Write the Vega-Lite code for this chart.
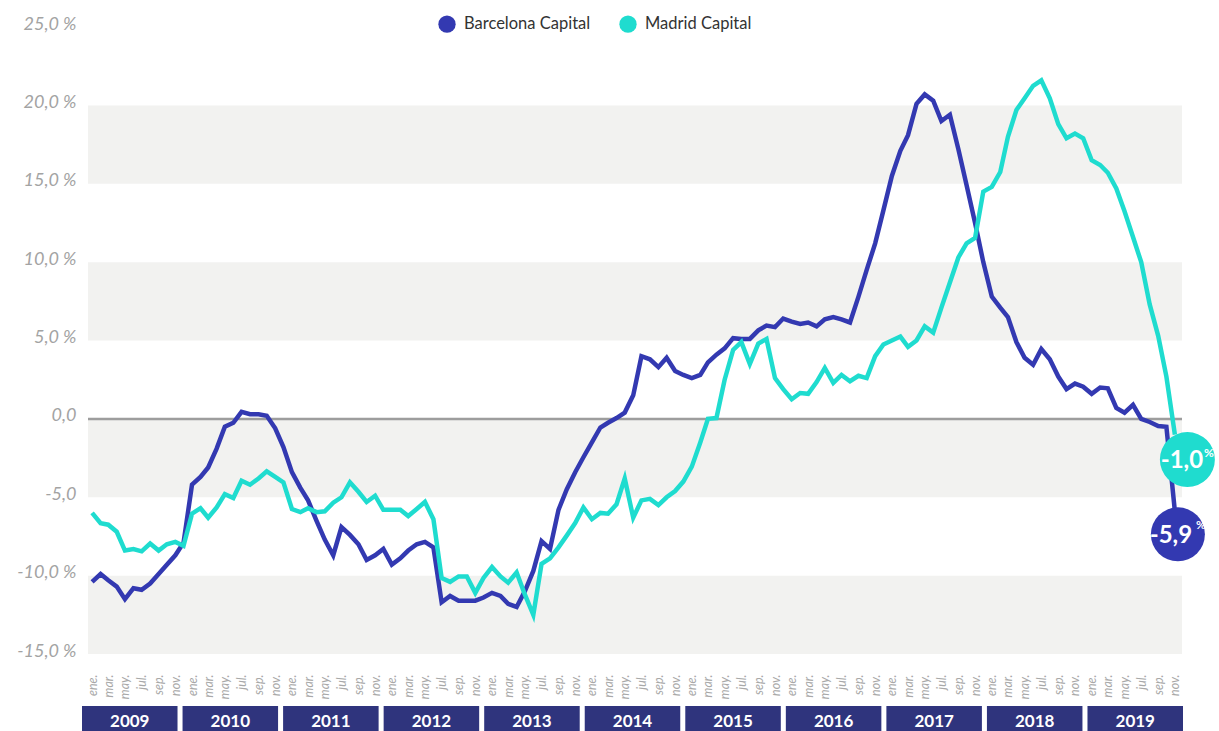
{
  "$schema": "https://vega.github.io/schema/vega-lite/v6.json",
  "background": "#ffffff",
  "padding": {"left": 16, "right": 2, "top": 15, "bottom": 0},
  "config": {"view": {"stroke": null}, "font": "Lato"},
  "datasets": {
    "series": [
      {"date": "2009-01-01", "Barcelona Capital": -10.4, "Madrid Capital": -6.0},
      {"date": "2009-02-01", "Barcelona Capital": -9.9, "Madrid Capital": -6.65},
      {"date": "2009-03-01", "Barcelona Capital": -10.3, "Madrid Capital": -6.75},
      {"date": "2009-04-01", "Barcelona Capital": -10.7, "Madrid Capital": -7.2},
      {"date": "2009-05-01", "Barcelona Capital": -11.5, "Madrid Capital": -8.4},
      {"date": "2009-06-01", "Barcelona Capital": -10.8, "Madrid Capital": -8.3},
      {"date": "2009-07-01", "Barcelona Capital": -10.9, "Madrid Capital": -8.45},
      {"date": "2009-08-01", "Barcelona Capital": -10.5, "Madrid Capital": -7.95},
      {"date": "2009-09-01", "Barcelona Capital": -9.9, "Madrid Capital": -8.4},
      {"date": "2009-10-01", "Barcelona Capital": -9.3, "Madrid Capital": -8.0},
      {"date": "2009-11-01", "Barcelona Capital": -8.7, "Madrid Capital": -7.85},
      {"date": "2009-12-01", "Barcelona Capital": -7.9, "Madrid Capital": -8.1},
      {"date": "2010-01-01", "Barcelona Capital": -4.2, "Madrid Capital": -6.05},
      {"date": "2010-02-01", "Barcelona Capital": -3.7, "Madrid Capital": -5.7},
      {"date": "2010-03-01", "Barcelona Capital": -3.1, "Madrid Capital": -6.3},
      {"date": "2010-04-01", "Barcelona Capital": -1.9, "Madrid Capital": -5.65},
      {"date": "2010-05-01", "Barcelona Capital": -0.5, "Madrid Capital": -4.8},
      {"date": "2010-06-01", "Barcelona Capital": -0.25, "Madrid Capital": -5.05},
      {"date": "2010-07-01", "Barcelona Capital": 0.45, "Madrid Capital": -3.95},
      {"date": "2010-08-01", "Barcelona Capital": 0.3, "Madrid Capital": -4.2},
      {"date": "2010-09-01", "Barcelona Capital": 0.3, "Madrid Capital": -3.8},
      {"date": "2010-10-01", "Barcelona Capital": 0.2, "Madrid Capital": -3.35},
      {"date": "2010-11-01", "Barcelona Capital": -0.6, "Madrid Capital": -3.7},
      {"date": "2010-12-01", "Barcelona Capital": -1.8, "Madrid Capital": -4.05},
      {"date": "2011-01-01", "Barcelona Capital": -3.4, "Madrid Capital": -5.75},
      {"date": "2011-02-01", "Barcelona Capital": -4.4, "Madrid Capital": -5.95},
      {"date": "2011-03-01", "Barcelona Capital": -5.2, "Madrid Capital": -5.7},
      {"date": "2011-04-01", "Barcelona Capital": -6.5, "Madrid Capital": -5.95},
      {"date": "2011-05-01", "Barcelona Capital": -7.7, "Madrid Capital": -5.9},
      {"date": "2011-06-01", "Barcelona Capital": -8.7, "Madrid Capital": -5.35},
      {"date": "2011-07-01", "Barcelona Capital": -6.9, "Madrid Capital": -5.0},
      {"date": "2011-08-01", "Barcelona Capital": -7.4, "Madrid Capital": -4.05},
      {"date": "2011-09-01", "Barcelona Capital": -8.0, "Madrid Capital": -4.65},
      {"date": "2011-10-01", "Barcelona Capital": -9.0, "Madrid Capital": -5.3},
      {"date": "2011-11-01", "Barcelona Capital": -8.7, "Madrid Capital": -4.9},
      {"date": "2011-12-01", "Barcelona Capital": -8.3, "Madrid Capital": -5.8},
      {"date": "2012-01-01", "Barcelona Capital": -9.3, "Madrid Capital": -5.8},
      {"date": "2012-02-01", "Barcelona Capital": -8.9, "Madrid Capital": -5.8},
      {"date": "2012-03-01", "Barcelona Capital": -8.4, "Madrid Capital": -6.2},
      {"date": "2012-04-01", "Barcelona Capital": -8.0, "Madrid Capital": -5.75},
      {"date": "2012-05-01", "Barcelona Capital": -7.85, "Madrid Capital": -5.3},
      {"date": "2012-06-01", "Barcelona Capital": -8.2, "Madrid Capital": -6.4},
      {"date": "2012-07-01", "Barcelona Capital": -11.7, "Madrid Capital": -10.15},
      {"date": "2012-08-01", "Barcelona Capital": -11.3, "Madrid Capital": -10.4},
      {"date": "2012-09-01", "Barcelona Capital": -11.6, "Madrid Capital": -10.05},
      {"date": "2012-10-01", "Barcelona Capital": -11.6, "Madrid Capital": -10.05},
      {"date": "2012-11-01", "Barcelona Capital": -11.6, "Madrid Capital": -11.1},
      {"date": "2012-12-01", "Barcelona Capital": -11.4, "Madrid Capital": -10.15},
      {"date": "2013-01-01", "Barcelona Capital": -11.1, "Madrid Capital": -9.45},
      {"date": "2013-02-01", "Barcelona Capital": -11.3, "Madrid Capital": -10.05},
      {"date": "2013-03-01", "Barcelona Capital": -11.8, "Madrid Capital": -10.45},
      {"date": "2013-04-01", "Barcelona Capital": -12.0, "Madrid Capital": -9.8},
      {"date": "2013-05-01", "Barcelona Capital": -11.0, "Madrid Capital": -11.2},
      {"date": "2013-06-01", "Barcelona Capital": -9.7, "Madrid Capital": -12.5},
      {"date": "2013-07-01", "Barcelona Capital": -7.8, "Madrid Capital": -9.25},
      {"date": "2013-08-01", "Barcelona Capital": -8.3, "Madrid Capital": -8.9},
      {"date": "2013-09-01", "Barcelona Capital": -5.8, "Madrid Capital": -8.2},
      {"date": "2013-10-01", "Barcelona Capital": -4.5, "Madrid Capital": -7.45},
      {"date": "2013-11-01", "Barcelona Capital": -3.4, "Madrid Capital": -6.65},
      {"date": "2013-12-01", "Barcelona Capital": -2.45, "Madrid Capital": -5.65},
      {"date": "2014-01-01", "Barcelona Capital": -1.5, "Madrid Capital": -6.4},
      {"date": "2014-02-01", "Barcelona Capital": -0.55, "Madrid Capital": -6.0},
      {"date": "2014-03-01", "Barcelona Capital": -0.25, "Madrid Capital": -6.05},
      {"date": "2014-04-01", "Barcelona Capital": 0.05, "Madrid Capital": -5.45},
      {"date": "2014-05-01", "Barcelona Capital": 0.4, "Madrid Capital": -3.8},
      {"date": "2014-06-01", "Barcelona Capital": 1.5, "Madrid Capital": -6.3},
      {"date": "2014-07-01", "Barcelona Capital": 4.0, "Madrid Capital": -5.2},
      {"date": "2014-08-01", "Barcelona Capital": 3.8, "Madrid Capital": -5.1},
      {"date": "2014-09-01", "Barcelona Capital": 3.3, "Madrid Capital": -5.5},
      {"date": "2014-10-01", "Barcelona Capital": 3.9, "Madrid Capital": -5.0},
      {"date": "2014-11-01", "Barcelona Capital": 3.05, "Madrid Capital": -4.6},
      {"date": "2014-12-01", "Barcelona Capital": 2.8, "Madrid Capital": -4.0},
      {"date": "2015-01-01", "Barcelona Capital": 2.6, "Madrid Capital": -3.05},
      {"date": "2015-02-01", "Barcelona Capital": 2.8, "Madrid Capital": -1.5},
      {"date": "2015-03-01", "Barcelona Capital": 3.6, "Madrid Capital": 0.0},
      {"date": "2015-04-01", "Barcelona Capital": 4.1, "Madrid Capital": 0.05},
      {"date": "2015-05-01", "Barcelona Capital": 4.5, "Madrid Capital": 2.5},
      {"date": "2015-06-01", "Barcelona Capital": 5.15, "Madrid Capital": 4.4},
      {"date": "2015-07-01", "Barcelona Capital": 5.1, "Madrid Capital": 4.9},
      {"date": "2015-08-01", "Barcelona Capital": 5.1, "Madrid Capital": 3.5},
      {"date": "2015-09-01", "Barcelona Capital": 5.65, "Madrid Capital": 4.8},
      {"date": "2015-10-01", "Barcelona Capital": 5.95, "Madrid Capital": 5.1},
      {"date": "2015-11-01", "Barcelona Capital": 5.85, "Madrid Capital": 2.6},
      {"date": "2015-12-01", "Barcelona Capital": 6.4, "Madrid Capital": 1.9},
      {"date": "2016-01-01", "Barcelona Capital": 6.2, "Madrid Capital": 1.25},
      {"date": "2016-02-01", "Barcelona Capital": 6.05, "Madrid Capital": 1.65},
      {"date": "2016-03-01", "Barcelona Capital": 6.15, "Madrid Capital": 1.6},
      {"date": "2016-04-01", "Barcelona Capital": 5.9, "Madrid Capital": 2.35},
      {"date": "2016-05-01", "Barcelona Capital": 6.35, "Madrid Capital": 3.25},
      {"date": "2016-06-01", "Barcelona Capital": 6.5, "Madrid Capital": 2.3},
      {"date": "2016-07-01", "Barcelona Capital": 6.35, "Madrid Capital": 2.8},
      {"date": "2016-08-01", "Barcelona Capital": 6.15, "Madrid Capital": 2.4},
      {"date": "2016-09-01", "Barcelona Capital": 7.8, "Madrid Capital": 2.75},
      {"date": "2016-10-01", "Barcelona Capital": 9.5, "Madrid Capital": 2.6},
      {"date": "2016-11-01", "Barcelona Capital": 11.2, "Madrid Capital": 4.0},
      {"date": "2016-12-01", "Barcelona Capital": 13.3, "Madrid Capital": 4.75},
      {"date": "2017-01-01", "Barcelona Capital": 15.5, "Madrid Capital": 5.0},
      {"date": "2017-02-01", "Barcelona Capital": 17.1, "Madrid Capital": 5.25},
      {"date": "2017-03-01", "Barcelona Capital": 18.1, "Madrid Capital": 4.6},
      {"date": "2017-04-01", "Barcelona Capital": 20.1, "Madrid Capital": 5.0},
      {"date": "2017-05-01", "Barcelona Capital": 20.7, "Madrid Capital": 5.9},
      {"date": "2017-06-01", "Barcelona Capital": 20.3, "Madrid Capital": 5.5},
      {"date": "2017-07-01", "Barcelona Capital": 19.0, "Madrid Capital": 7.1},
      {"date": "2017-08-01", "Barcelona Capital": 19.4, "Madrid Capital": 8.7},
      {"date": "2017-09-01", "Barcelona Capital": 17.2, "Madrid Capital": 10.3},
      {"date": "2017-10-01", "Barcelona Capital": 14.9, "Madrid Capital": 11.2},
      {"date": "2017-11-01", "Barcelona Capital": 12.5, "Madrid Capital": 11.55},
      {"date": "2017-12-01", "Barcelona Capital": 10.0, "Madrid Capital": 14.5},
      {"date": "2018-01-01", "Barcelona Capital": 7.8, "Madrid Capital": 14.8},
      {"date": "2018-02-01", "Barcelona Capital": 7.1, "Madrid Capital": 15.75},
      {"date": "2018-03-01", "Barcelona Capital": 6.5, "Madrid Capital": 18.0},
      {"date": "2018-04-01", "Barcelona Capital": 4.9, "Madrid Capital": 19.7},
      {"date": "2018-05-01", "Barcelona Capital": 3.9, "Madrid Capital": 20.45},
      {"date": "2018-06-01", "Barcelona Capital": 3.45, "Madrid Capital": 21.25},
      {"date": "2018-07-01", "Barcelona Capital": 4.45, "Madrid Capital": 21.6},
      {"date": "2018-08-01", "Barcelona Capital": 3.8, "Madrid Capital": 20.45},
      {"date": "2018-09-01", "Barcelona Capital": 2.7, "Madrid Capital": 18.8},
      {"date": "2018-10-01", "Barcelona Capital": 1.9, "Madrid Capital": 17.9},
      {"date": "2018-11-01", "Barcelona Capital": 2.25, "Madrid Capital": 18.2},
      {"date": "2018-12-01", "Barcelona Capital": 2.05, "Madrid Capital": 17.9},
      {"date": "2019-01-01", "Barcelona Capital": 1.6, "Madrid Capital": 16.5},
      {"date": "2019-02-01", "Barcelona Capital": 2.0, "Madrid Capital": 16.2},
      {"date": "2019-03-01", "Barcelona Capital": 1.95, "Madrid Capital": 15.7},
      {"date": "2019-04-01", "Barcelona Capital": 0.7, "Madrid Capital": 14.7},
      {"date": "2019-05-01", "Barcelona Capital": 0.4, "Madrid Capital": 13.25},
      {"date": "2019-06-01", "Barcelona Capital": 0.9, "Madrid Capital": 11.6},
      {"date": "2019-07-01", "Barcelona Capital": 0.0, "Madrid Capital": 10.0},
      {"date": "2019-08-01", "Barcelona Capital": -0.2, "Madrid Capital": 7.3},
      {"date": "2019-09-01", "Barcelona Capital": -0.45, "Madrid Capital": 5.3},
      {"date": "2019-10-01", "Barcelona Capital": -0.5, "Madrid Capital": 2.7},
      {"date": "2019-11-01", "Barcelona Capital": -5.9, "Madrid Capital": -1.0}
    ],
    "bands": [
      {"top": 20, "bottom": 15},
      {"top": 10, "bottom": 5},
      {"top": 0, "bottom": -5},
      {"top": -10, "bottom": -15}
    ],
    "ends": [
      {"serie": "Barcelona Capital", "date": "2019-11-01", "value": -5.9, "label": "-5,9"},
      {"serie": "Madrid Capital", "date": "2019-11-01", "value": -1.0, "label": "-1,0"}
    ],
    "years": [
      {"year": "2009"}, {"year": "2010"}, {"year": "2011"}, {"year": "2012"},
      {"year": "2013"}, {"year": "2014"}, {"year": "2015"}, {"year": "2016"},
      {"year": "2017"}, {"year": "2018"}, {"year": "2019"}
    ]
  },
  "spacing": 7,
  "vconcat": [
    {
      "width": 1094,
      "height": 627,
      "layer": [
        {
          "data": {"name": "bands"},
          "mark": {"type": "rect", "color": "#f2f2f0"},
          "encoding": {
            "y": {
              "field": "top", "type": "quantitative", "title": null,
              "scale": {"domain": [-15, 25], "nice": false, "zero": false},
              "axis": {
                "values": [-15, -10, -5, 0, 5, 10, 15, 20, 25],
                "domain": false, "ticks": false, "grid": false,
                "labelPadding": 12, "labelFont": "Lato", "labelFontSize": 18,
                "labelFontStyle": "italic", "labelColor": "#a3a3a3", "labelOffset": -3,
                "labelExpr": "datum.value == 0 ? '0,0' : datum.value == -5 ? '-5,0' : (datum.value < 0 ? '-' : '') + abs(datum.value) + ',0 %'"
              }
            },
            "y2": {"field": "bottom"}
          }
        },
        {
          "data": {"values": [{"zero": 0}]},
          "mark": {"type": "rule", "color": "#9d9d9d", "strokeWidth": 2.5},
          "encoding": {"y": {"field": "zero", "type": "quantitative", "title": null}}
        },
        {
          "data": {"name": "series"},
          "transform": [{"fold": ["Barcelona Capital", "Madrid Capital"], "as": ["serie", "value"]}],
          "mark": {"type": "line", "strokeWidth": 4.5},
          "encoding": {
            "x": {
              "field": "date", "type": "temporal", "title": null,
              "scale": {"type": "utc", "domain": [{"year": 2008, "month": 12, "date": 17, "utc": true}, {"year": 2019, "month": 11, "date": 27, "utc": true}]},
              "axis": {
                "domain": false, "ticks": false, "grid": false,
                "tickCount": {"interval": "month", "step": 2},
                "labelAngle": 270, "labelAlign": "right", "labelBaseline": "middle",
                "labelPadding": 20, "labelFont": "Lato", "labelFontSize": 12.5,
                "labelFontStyle": "italic", "labelColor": "#a8a8a8",
                "labelOverlap": false, "labelFlush": false, "labelBound": false,
                "labelExpr": "['ene.','feb.','mar.','abr.','may.','jun.','jul.','ago.','sep.','oct.','nov.','dic.'][utcmonth(datum.value)]"
              }
            },
            "y": {"field": "value", "type": "quantitative", "title": null},
            "color": {
              "field": "serie", "type": "nominal",
              "scale": {"domain": ["Barcelona Capital", "Madrid Capital"], "range": ["#3339b1", "#1fdccf"]},
              "legend": {
                "title": null, "orient": "none", "legendX": 350, "legendY": -12,
                "direction": "horizontal", "symbolType": "circle", "symbolSize": 300,
                "labelFont": "Lato", "labelFontSize": 16.5, "labelColor": "#333333",
                "columnPadding": 28, "labelOffset": 8,
                "encode": {"symbols": {"update": {"fill": {"signal": "datum.value == 'Barcelona Capital' ? '#3339b1' : '#1fdccf'"}, "strokeWidth": {"value": 0}}}}
              }
            }
          }
        },
        {
          "data": {"name": "ends"},
          "transform": [{"filter": "datum.serie == 'Barcelona Capital'"}],
          "mark": {"type": "point", "shape": "circle", "filled": true, "opacity": 1, "size": 2916, "color": "#3339b1", "xOffset": 3, "yOffset": 23},
          "encoding": {"x": {"field": "date", "type": "temporal", "title": null}, "y": {"field": "value", "type": "quantitative", "title": null}}
        },
        {
          "data": {"name": "ends"},
          "transform": [{"filter": "datum.serie == 'Madrid Capital'"}],
          "mark": {"type": "point", "shape": "circle", "filled": true, "opacity": 1, "size": 3025, "color": "#1fdccf", "xOffset": 12.5, "yOffset": 25},
          "encoding": {"x": {"field": "date", "type": "temporal", "title": null}, "y": {"field": "value", "type": "quantitative", "title": null}}
        },
        {
          "data": {"name": "ends"},
          "transform": [{"filter": "datum.serie == 'Barcelona Capital'"}],
          "mark": {"type": "text", "color": "#ffffff", "font": "Lato", "fontWeight": "bold", "fontSize": 24, "align": "center", "baseline": "middle", "xOffset": -4, "yOffset": 25},
          "encoding": {"x": {"field": "date", "type": "temporal", "title": null}, "y": {"field": "value", "type": "quantitative", "title": null}, "text": {"field": "label"}}
        },
        {
          "data": {"name": "ends"},
          "transform": [{"filter": "datum.serie == 'Barcelona Capital'"}],
          "mark": {"type": "text", "text": "%", "color": "#ffffff", "font": "Lato", "fontWeight": "bold", "fontSize": 12, "align": "center", "baseline": "middle", "xOffset": 26, "yOffset": 14},
          "encoding": {"x": {"field": "date", "type": "temporal", "title": null}, "y": {"field": "value", "type": "quantitative", "title": null}}
        },
        {
          "data": {"name": "ends"},
          "transform": [{"filter": "datum.serie == 'Madrid Capital'"}],
          "mark": {"type": "text", "color": "#ffffff", "font": "Lato", "fontWeight": "bold", "fontSize": 24, "align": "center", "baseline": "middle", "xOffset": 7, "yOffset": 26},
          "encoding": {"x": {"field": "date", "type": "temporal", "title": null}, "y": {"field": "value", "type": "quantitative", "title": null}, "text": {"field": "label"}}
        },
        {
          "data": {"name": "ends"},
          "transform": [{"filter": "datum.serie == 'Madrid Capital'"}],
          "mark": {"type": "text", "text": "%", "color": "#ffffff", "font": "Lato", "fontWeight": "bold", "fontSize": 12, "align": "center", "baseline": "middle", "xOffset": 34, "yOffset": 18},
          "encoding": {"x": {"field": "date", "type": "temporal", "title": null}, "y": {"field": "value", "type": "quantitative", "title": null}}
        }
      ]
    },
    {
      "width": 1094,
      "height": 25,
      "data": {"name": "years"},
      "encoding": {
        "x": {"field": "year", "type": "ordinal", "title": null, "axis": null,
              "scale": {"paddingInner": 0.05, "paddingOuter": 0, "range": [-6, 1095]}}
      },
      "layer": [
        {"mark": {"type": "rect", "color": "#2f347d"}},
        {"mark": {"type": "text", "color": "#ffffff", "font": "Lato", "fontWeight": "bold", "fontSize": 17, "dy": 3},
         "encoding": {"text": {"field": "year"}}}
      ]
    }
  ],
  "resolve": {"scale": {"x": "independent", "y": "independent"}}
}
